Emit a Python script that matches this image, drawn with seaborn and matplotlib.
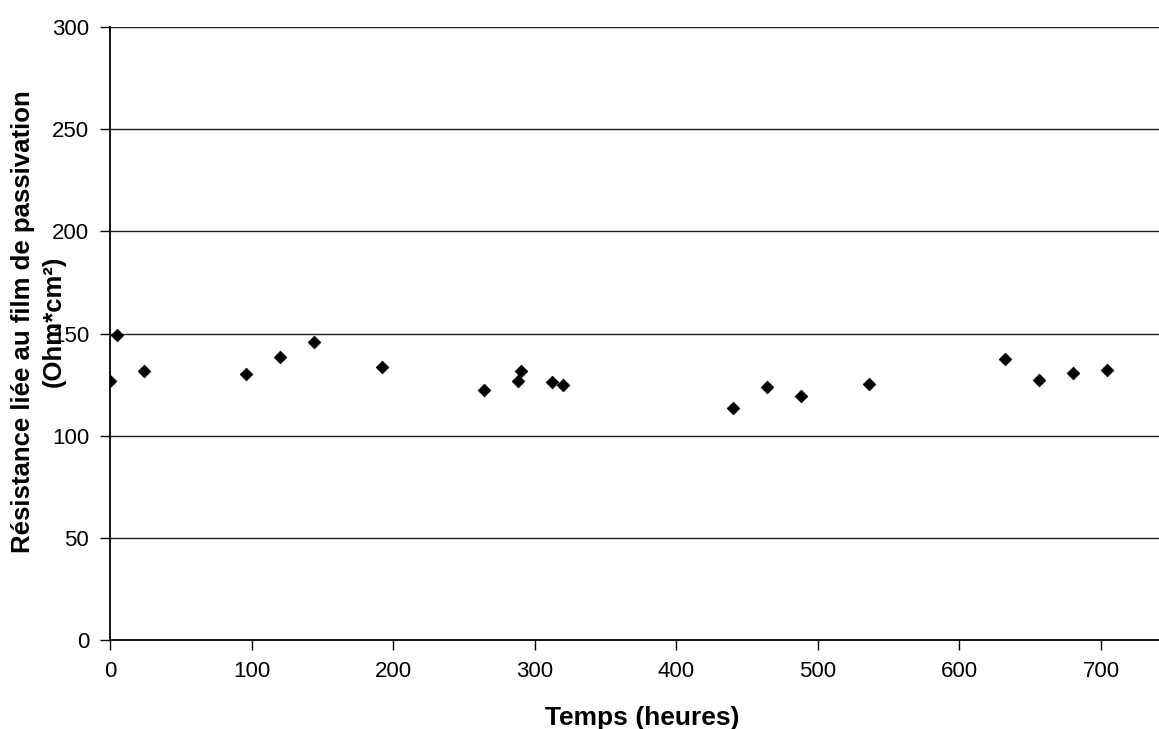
import matplotlib
matplotlib.use("Agg")
import matplotlib.pyplot as plt
import seaborn as sns
import pandas as pd

# Values
temps = [0, 5, 24, 96, 120, 144, 192, 264, 288, 290, 312, 320,
         440, 464, 488, 536, 632, 656, 680, 704]
resistance = [126.8, 149.1, 131.7, 130.0, 138.4, 145.9, 133.8, 122.5, 126.6, 131.7,
              126.1, 124.7, 113.4, 124.0, 119.6, 125.2, 137.4, 127.1, 130.7, 132.3]

x_ticks = [0, 100, 200, 300, 400, 500, 600, 700]
y_ticks = [0, 50, 100, 150, 200, 250, 300]

df = pd.DataFrame({"temps": temps, "resistance": resistance})

sns.set_theme(style="white")
plt.rcParams['font.family'] = ['Liberation Sans', 'DejaVu Sans']
plt.rcParams['text.color'] = 'black'
plt.rcParams['axes.labelcolor'] = 'black'
plt.rcParams['xtick.color'] = 'black'
plt.rcParams['ytick.color'] = 'black'

fig = plt.figure(figsize=(11.59, 7.29), dpi=100)
ax = fig.add_axes([110 / 1159, 1 - 640 / 729, 1 - 110 / 1159, (640 - 27) / 729])

for y in y_ticks[1:]:
    ax.axhline(y, color="#202020", linewidth=1.0, zorder=1)

sns.scatterplot(data=df, x="temps", y="resistance", marker="D", s=42,
                color="black", edgecolor="black", linewidth=0.5, ax=ax, zorder=3)

ax.set_xlim(0, 741)
ax.set_ylim(0, 300)
ax.set_xticks(x_ticks)
ax.set_yticks(y_ticks)
ax.tick_params(axis="both", which="major", direction="out", length=7, width=1,
               labelsize=16, pad=8, bottom=True, left=True)

for side in ["top", "right"]:
    ax.spines[side].set_visible(False)
for side in ["left", "bottom"]:
    ax.spines[side].set_color("black")
    ax.spines[side].set_linewidth(1.3)

ax.set_xlabel("Temps (heures)", fontsize=19, fontweight="bold")
ax.set_ylabel("Résistance liée au film de passivation\n(Ohm*cm²)",
              fontsize=18.5, fontweight="bold", linespacing=1.35)
ax.xaxis.set_label_coords(0.507, -0.108)
ax.yaxis.set_label_coords(-0.042, 0.52)

fig.savefig("out.png", dpi=100)
